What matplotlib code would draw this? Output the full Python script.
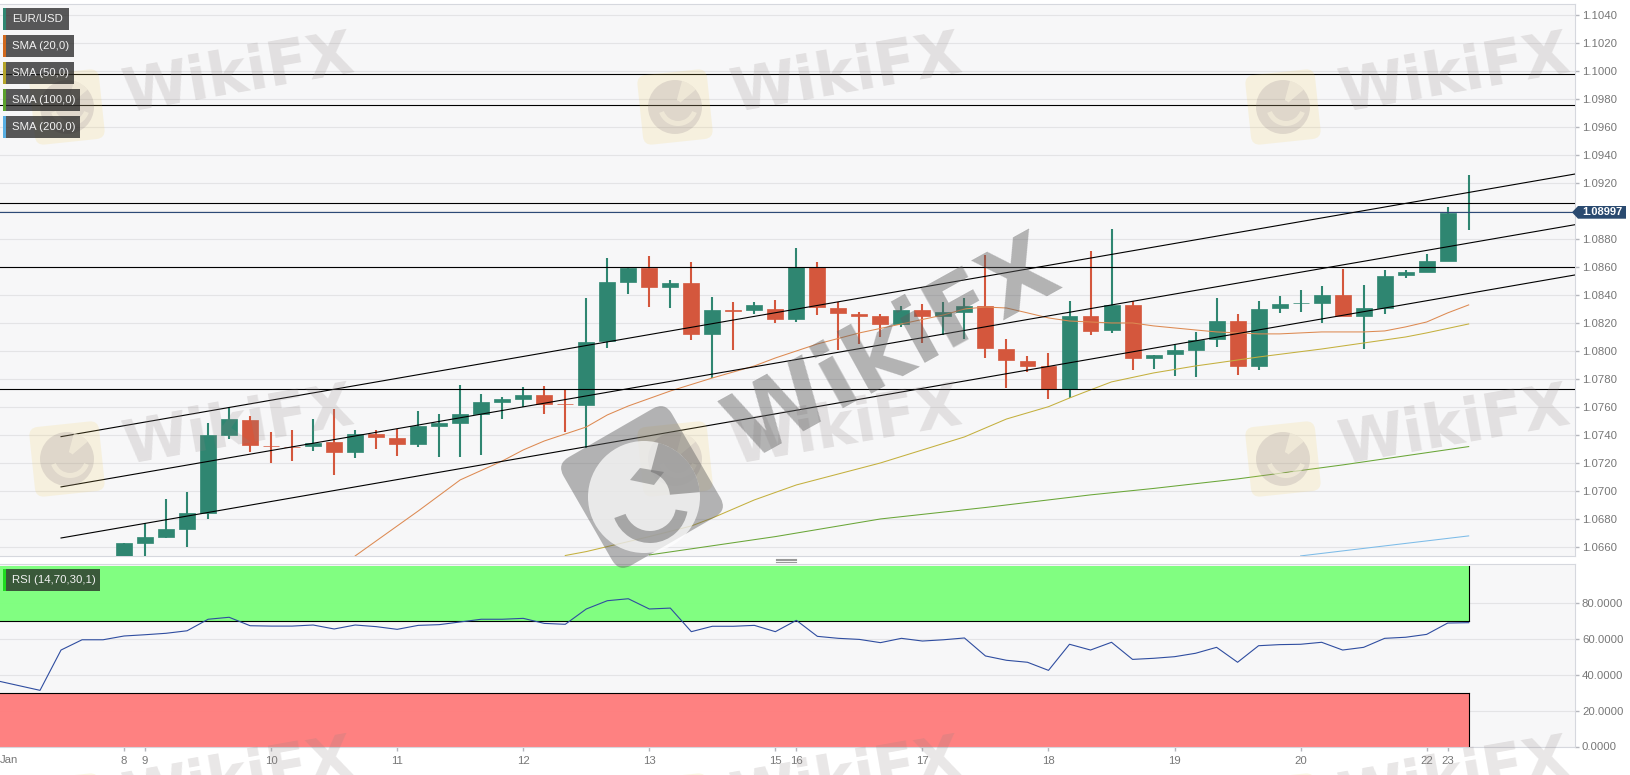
import matplotlib
matplotlib.use("Agg")
import matplotlib.pyplot as plt
from matplotlib.lines import Line2D
from matplotlib.patches import Circle, FancyBboxPatch, Polygon, Rectangle, Wedge
from matplotlib.transforms import Affine2D, IdentityTransform

plt.rcParams['font.family'] = ['Liberation Sans', 'DejaVu Sans']

W, H = 1631, 775

# candles, first one sits at bar number 6
first_bar = 6
opens = [1.0650, 1.06633, 1.06676, 1.06733, 1.06847, 1.07404, 1.07509, 1.07324, 1.07316, 1.07324,
         1.07352, 1.07279, 1.07409, 1.07383, 1.07340, 1.07469, 1.07486, 1.07552, 1.07636, 1.07657,
         1.07686, 1.07625, 1.07619, 1.08071, 1.08495, 1.08597, 1.08457, 1.08490, 1.08121, 1.08295,
         1.08295, 1.08304, 1.08231, 1.08604, 1.08311, 1.08266, 1.08252, 1.08195, 1.08295, 1.08252,
         1.08283, 1.08324, 1.08016, 1.07933, 1.07897, 1.07733, 1.08254, 1.08150, 1.08333, 1.07954,
         1.07979, 1.08009, 1.08086, 1.08216, 1.07895, 1.08309, 1.08342, 1.08347, 1.08402, 1.08254,
         1.08309, 1.08545, 1.08564, 1.08647, 1.08995]
highs = [1.06629, 1.06771, 1.06945, 1.06993, 1.07486, 1.07597, 1.07538, 1.07421, 1.07438, 1.07514,
         1.07586, 1.07438, 1.07438, 1.07447, 1.07574, 1.07552, 1.07759, 1.07695, 1.07676, 1.07743,
         1.07752, 1.07724, 1.08381, 1.08666, 1.08600, 1.08681, 1.08509, 1.08638, 1.08386, 1.08352,
         1.08350, 1.08366, 1.08736, 1.08638, 1.08354, 1.08283, 1.08266, 1.08324, 1.08338, 1.08350,
         1.08379, 1.08688, 1.08086, 1.07964, 1.07986, 1.08357, 1.08716, 1.08874, 1.08359, 1.07976,
         1.08047, 1.08136, 1.08379, 1.08266, 1.08357, 1.08395, 1.08438, 1.08466, 1.08586, 1.08474,
         1.08579, 1.08579, 1.08693, 1.09029, 1.09259]
lows = [1.0645, 1.0652, 1.06664, 1.0660, 1.06802, 1.07376, 1.07283, 1.07204, 1.07219, 1.07290,
        1.07119, 1.07238, 1.07304, 1.07254, 1.07319, 1.07245, 1.07245, 1.07259, 1.07516, 1.07602,
        1.07554, 1.07426, 1.07309, 1.08024, 1.08409, 1.08319, 1.08309, 1.08081, 1.07807, 1.08009,
        1.08266, 1.08204, 1.08209, 1.08259, 1.08009, 1.08052, 1.08100, 1.08174, 1.08061, 1.08119,
        1.08090, 1.07954, 1.07740, 1.07854, 1.07661, 1.07664, 1.08116, 1.08133, 1.07866, 1.07874,
        1.07826, 1.07819, 1.08033, 1.07833, 1.07866, 1.08276, 1.08281, 1.08204, 1.08250, 1.08016,
        1.08269, 1.08521, 1.08564, 1.08647, 1.08866]
closes = [1.06629, 1.06676, 1.06731, 1.06843, 1.07402, 1.07519, 1.07329, 1.07322, 1.07314, 1.07347,
          1.07281, 1.07407, 1.07388, 1.07340, 1.07469, 1.07488, 1.07550, 1.07636, 1.07657, 1.07688,
          1.07624, 1.07623, 1.08069, 1.08493, 1.08597, 1.08459, 1.08490, 1.08124, 1.08295, 1.08291,
          1.08329, 1.08231, 1.08604, 1.08314, 1.08271, 1.08254, 1.08197, 1.08295, 1.08252, 1.08281,
          1.08324, 1.08021, 1.07938, 1.07897, 1.07731, 1.08252, 1.08147, 1.08333, 1.07954, 1.07974,
          1.08007, 1.08079, 1.08219, 1.07895, 1.08304, 1.08338, 1.08344, 1.08402, 1.08254, 1.08311,
          1.08540, 1.08564, 1.08645, 1.08986, 1.08997]

sma20_bars = [17, 20, 22, 24, 25, 26, 28, 29, 30, 32, 34, 36, 37, 39, 41, 43, 45, 46, 47, 48, 49, 50,
              51, 53, 54, 55, 57, 58, 60, 61, 63, 65, 66, 67, 68, 69, 70]
sma20 = [1.06538, 1.06859, 1.07081, 1.07216, 1.07295, 1.07359, 1.07459, 1.07545, 1.07609, 1.07716,
         1.07809, 1.07895, 1.07952, 1.08052, 1.08131, 1.08195, 1.08259, 1.08302, 1.08316, 1.08309,
         1.08274, 1.08238, 1.08216, 1.08202, 1.08202, 1.08181, 1.08152, 1.08138, 1.08124, 1.08124,
         1.08138, 1.08138, 1.08145, 1.08174, 1.08209, 1.08274, 1.08331]
sma50_bars = [27, 28, 31, 33, 34, 36, 38, 42, 46, 48, 50, 51, 52, 53, 55, 57, 58, 60, 63, 65, 67, 68, 70]
sma50 = [1.06541, 1.06569, 1.06676, 1.06752, 1.06809, 1.06938, 1.07045, 1.07202, 1.07388, 1.07516,
         1.07604, 1.07666, 1.07724, 1.07781, 1.07845, 1.07895, 1.07916, 1.07959, 1.08016, 1.08059,
         1.08102, 1.08131, 1.08195]
sma100_bars = [31, 37, 42, 47, 52, 55, 59, 64, 70]
sma100 = [1.06545, 1.06676, 1.06802, 1.06884, 1.06974, 1.07020, 1.07088, 1.07188, 1.07319]
sma200_bars = [62, 70]
sma200 = [1.06538, 1.06681]

level_lines = [1.09981, 1.09757, 1.09057, 1.08604, 1.07729]
last_price = 1.08997

channel_bars = [3, 75.06]
channel_top = [1.07390, 1.09266]
channel_mid = [1.07031, 1.08904]
channel_low = [1.06666, 1.08545]

rsi = [36.4, 33.8, 31.2, 53.6, 59.3, 59.3, 61.4, 62.1, 62.9, 64.3, 70.7, 71.8, 67.1, 66.9, 66.9, 67.5,
       65.3, 67.5, 66.6, 65.1, 67.3, 67.7, 69.2, 70.7, 70.7, 71.2, 68.4, 67.9, 76.4, 81.0, 82.1, 76.4,
       76.9, 63.8, 66.8, 66.8, 67.3, 63.8, 70.1, 61.2, 60.1, 59.5, 57.7, 60.1, 58.6, 59.3, 60.3, 50.3,
       47.9, 46.8, 42.3, 56.8, 53.6, 57.9, 48.4, 49.0, 49.9, 51.8, 55.1, 46.8, 56.0, 56.6, 56.8, 57.9,
       53.6, 55.1, 60.1, 60.7, 62.3, 68.6, 68.8]

day_bars = [6, 7, 13, 19, 25, 31, 37, 38, 44, 50, 56, 62, 68, 69]
day_labels = ['8', '9', '10', '11', '12', '13', '15', '16', '17', '18', '19', '20', '22', '23']

price_ticks = [1.0660, 1.0680, 1.0700, 1.0720, 1.0740, 1.0760, 1.0780, 1.0800, 1.0820, 1.0840, 1.0860,
               1.0880, 1.0900, 1.0920, 1.0940, 1.0960, 1.0980, 1.1000, 1.1020, 1.1040]
rsi_ticks = [0, 20, 40, 60, 80]

legend_names = ['EUR/USD', 'SMA (20,0)', 'SMA (50,0)', 'SMA (100,0)', 'SMA (200,0)']

GREEN = '#2f8671'
RED = '#d4573d'
GRID = '#e4e4e6'
EDGE = '#d6d8de'
TICK = '#777777'
BG = '#f7f7f8'
XLIM = (0.095, 75.06)


def axes_box(top, bottom, right=1575):
    return [0, 1 - bottom / H, right / W, (bottom - top) / H]


def px_rect(x, y, w, h, **kw):
    fig.add_artist(Rectangle((x, H - y - h), w, h, transform=IdentityTransform(), **kw))


def px_text(x, y, s, **kw):
    fig.text(x / W, 1 - y / H, s, **kw)


def round_square(cx, cy, side, rad, angle, **kw):
    cy = H - cy
    inner = side - 2 * rad
    fig.add_artist(FancyBboxPatch((cx - inner / 2, cy - inner / 2), inner, inner,
                                  boxstyle="round,pad=%g,rounding_size=%g" % (rad, rad),
                                  transform=Affine2D().rotate_deg_around(cx, cy, angle),
                                  linewidth=0, **kw))


def small_mark(cx, cy):
    # faint tiled logo plus name
    round_square(cx, cy, 70, 9, 6, facecolor='#f2cf5a', alpha=0.16, zorder=2)
    fig.add_artist(Circle((cx, H - cy), 27, transform=IdentityTransform(), facecolor='#85767f',
                          alpha=0.2, linewidth=0, zorder=2))
    fig.add_artist(Wedge((cx + 3, H - cy + 1), 20, 200, 340, width=5, transform=IdentityTransform(),
                         facecolor='#f9f3df', alpha=0.6, linewidth=0, zorder=2))
    fig.add_artist(Wedge((cx, H - cy), 27, 40, 75, width=20, transform=IdentityTransform(),
                         facecolor='#f9f3df', alpha=0.6, linewidth=0, zorder=2))
    px_text(cx + 171, cy - 32, 'WikiFX', fontsize=43, fontweight='bold', family='DejaVu Sans',
            color='#8f8585', alpha=0.2, rotation=10, ha='center', va='center',
            rotation_mode='anchor', zorder=2)


fig = plt.figure(figsize=(W / 100, H / 100), dpi=100, facecolor='white')
ax = fig.add_axes(axes_box(3.5, 555.5), facecolor=BG)
ax2 = fig.add_axes(axes_box(564, 746.5), facecolor=BG)

# price panel
for p in price_ticks:
    ax.axhline(p, color=GRID, lw=0.8, zorder=1)

for n, (o, h, l, c) in enumerate(zip(opens, highs, lows, closes)):
    bar = first_bar + n
    col = GREEN if c >= o else RED
    ax.vlines(bar, l, h, color=col, lw=1.5, zorder=3)
    ax.bar(bar, abs(c - o), bottom=min(o, c), width=0.76, color=col, edgecolor=col, lw=0.5, zorder=3)

ax.plot(sma20_bars, sma20, color='#dd8a52', lw=0.75, zorder=4)
ax.plot(sma50_bars, sma50, color='#c4b03e', lw=0.75, zorder=4)
ax.plot(sma100_bars, sma100, color='#6aa638', lw=0.75, zorder=4)
ax.plot(sma200_bars, sma200, color='#7dbce8', lw=0.75, zorder=4)

for level in level_lines:
    ax.axhline(level, color='black', lw=0.8, zorder=5)
ax.axhline(last_price, color='#2d4a78', lw=0.8, zorder=5)
for ch in (channel_top, channel_mid, channel_low):
    ax.plot(channel_bars, ch, color='black', lw=0.8, zorder=5)

ax.set_xlim(*XLIM)
ax.set_ylim(1.06541, 1.10484)
ax.set_xticks([])
ax.set_yticks(price_ticks)
# 1.0900 sits behind the price tag
ax.set_yticklabels(['' if p == 1.0900 else '%.4f' % p for p in price_ticks])

# rsi panel
for r in rsi_ticks:
    ax2.axhline(r, color=GRID, lw=0.8, zorder=1)
ax2.fill_between([0, 70], 70, 100.3, color='#7dff7d', alpha=0.97, lw=0, zorder=2)
ax2.fill_between([0, 70], 0, 30, color='#ff7d7d', alpha=0.97, lw=0, zorder=2)
ax2.plot([0, 70], [70, 70], color='black', lw=0.8, zorder=3)
ax2.plot([0, 70], [30, 30], color='black', lw=0.8, zorder=3)
ax2.plot([70, 70], [70, 100.3], color='black', lw=0.8, zorder=3)
ax2.plot([70, 70], [0, 30], color='black', lw=0.8, zorder=3)
ax2.plot(range(len(rsi)), rsi, color='#2f4da0', lw=0.8, zorder=4)

ax2.set_xlim(*XLIM)
ax2.set_ylim(0, 101.4)
ax2.set_yticks(rsi_ticks)
ax2.set_yticklabels(['%.4f' % r for r in rsi_ticks])
ax2.set_xticks(day_bars)
ax2.set_xticklabels(day_labels)

for a in (ax, ax2):
    a.yaxis.tick_right()
    a.tick_params(axis='y', length=3, width=1, color='#b5b7bd', labelcolor=TICK, labelsize=8.2, pad=2)
    a.tick_params(axis='x', length=3, width=1, color='#b5b7bd', labelcolor=TICK, labelsize=8.2, pad=4)
    a.spines['left'].set_visible(False)
    for s in ('top', 'right', 'bottom'):
        a.spines[s].set_color(EDGE)

px_text(0, 760, 'Jan', fontsize=8.2, color=TICK, ha='left', va='center')

# current price tag
tag = [(1572, H - 212.3), (1578, H - 206), (1626, H - 206), (1626, H - 218.7), (1578, H - 218.7)]
fig.add_artist(Polygon(tag, closed=True, transform=IdentityTransform(), facecolor='#2a4a70', linewidth=0, zorder=3))
px_text(1602, 212.3, '%.5f' % last_price, fontsize=8, fontweight='bold', color='white',
        ha='center', va='center', zorder=4)

# panel drag handle
for gy in (558.5, 560.3, 562):
    fig.add_artist(Line2D([776, 796], [H - gy, H - gy], color='#9a9a9a', lw=0.8, transform=IdentityTransform()))

# watermark tiles
for cx in (67, 675, 1283):
    for cy in (107, 459, 811):
        small_mark(cx, cy)

# big centre watermark
round_square(642, 487, 125, 14, 30, facecolor='#5f5f5f', alpha=0.45, zorder=2)
fig.add_artist(Circle((644, H - 497), 56, transform=IdentityTransform(), facecolor='white', alpha=0.72,
                      linewidth=0, zorder=2))
fig.add_artist(Wedge((644, H - 497), 56, 5, 75, width=30, transform=IdentityTransform(),
                     facecolor='#6f6f6f', alpha=0.55, linewidth=0, zorder=2))
fig.add_artist(Wedge((650, H - 505), 38, 200, 350, width=12, transform=IdentityTransform(),
                     facecolor='#6f6f6f', alpha=0.55, linewidth=0, zorder=2))
fig.add_artist(Polygon([(640, H - 468), (664, H - 472), (654, H - 485), (630, H - 480)], closed=True,
                       transform=IdentityTransform(), facecolor='#6f6f6f', alpha=0.5, linewidth=0, zorder=2))
px_text(893, 350, 'WikiFX', fontsize=67, fontweight='bold', family='DejaVu Sans', color='#5f5f5f', alpha=0.45,
        rotation=29, ha='center', va='center', rotation_mode='anchor', zorder=2)

# legend chips
legend_y = [8, 35, 62, 89, 116]
legend_w = [66, 71, 71, 77, 77]
legend_col = ['#2f8671', '#d2691e', '#b5a52a', '#5aa02c', '#58aee2']
for name, y, w, col in zip(legend_names, legend_y, legend_w, legend_col):
    px_rect(3, y, w, 22, facecolor='#222222', alpha=0.75, linewidth=0, zorder=5)
    px_rect(3, y, 3, 22, facecolor=col, linewidth=0, zorder=6)
    px_text(12, y + 11, name, fontsize=8.2, color='#f2f2f2', ha='left', va='center', zorder=7)
px_rect(3, 569, 97, 22, facecolor='#222222', alpha=0.75, linewidth=0, zorder=5)
px_rect(3, 569, 3, 22, facecolor='#1fdc1f', linewidth=0, zorder=6)
px_text(12, 580, 'RSI (14,70,30,1)', fontsize=8.2, color='#f2f2f2', ha='left', va='center', zorder=7)

fig.savefig('out.png', dpi=100, facecolor='white')
